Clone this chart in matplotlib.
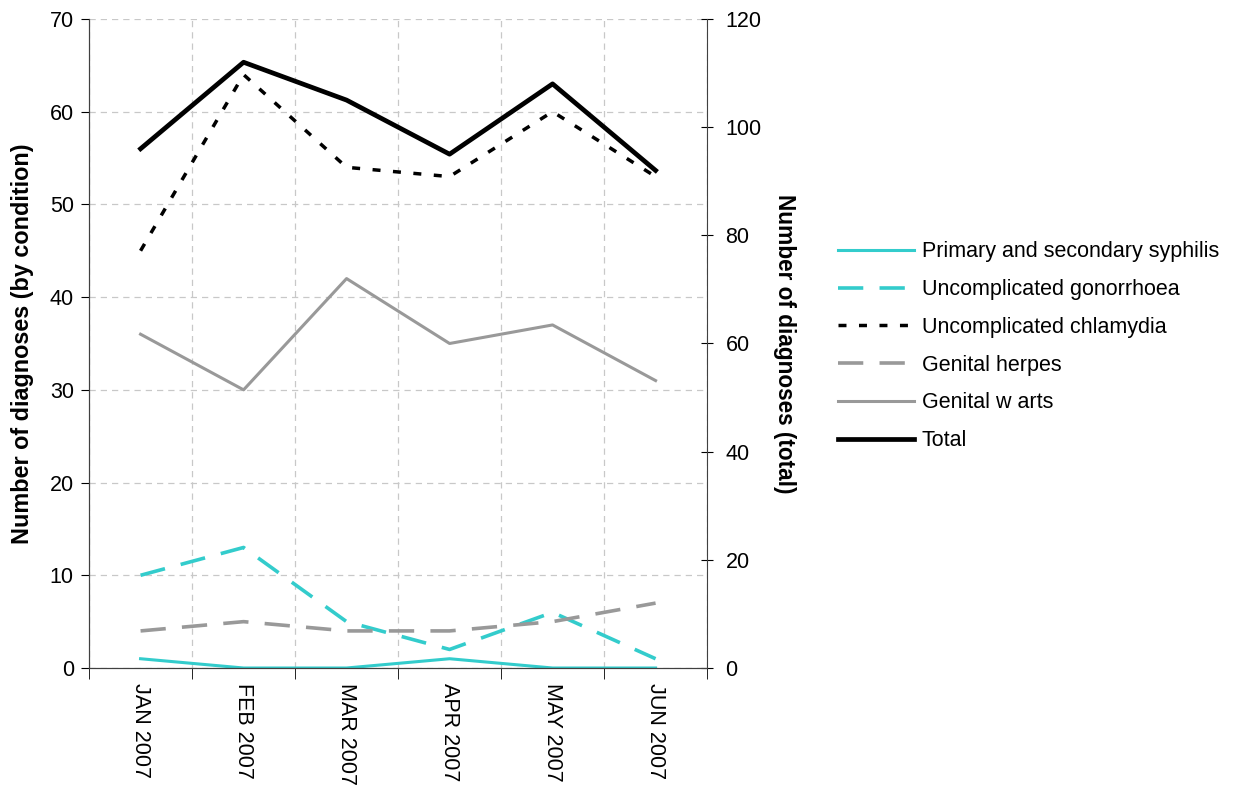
import numpy as np
import matplotlib
matplotlib.use("Agg")
import matplotlib.pyplot as plt

plt.rcParams['font.family'] = ['Liberation Sans', 'DejaVu Sans']

months = ['JAN 2007', 'FEB 2007', 'MAR 2007', 'APR 2007', 'MAY 2007', 'JUN 2007']
syphilis = [1, 0, 0, 1, 0, 0]
gonorrhoea = [10, 13, 5, 2, 6, 1]
chlamydia = [45, 64, 54, 53, 60, 53]
herpes = [4, 5, 4, 4, 5, 7]
warts = [36, 30, 42, 35, 37, 31]
total = [96, 112, 105, 95, 108, 92]

cyan = '#33CCCC'
grey = '#999999'
fs = 15.5

fig = plt.figure(figsize=(12.37, 7.87), dpi=100)
ax = fig.add_axes([0.072, 0.1512, 0.4996, 0.8247])
ax2 = ax.twinx()

x = np.arange(len(months))
l1, = ax.plot(x, syphilis, color=cyan, lw=2.2, label='Primary and secondary syphilis')
l2, = ax.plot(x, gonorrhoea, color=cyan, lw=2.6, dashes=(7, 4.5), label='Uncomplicated gonorrhoea')
l3, = ax.plot(x, chlamydia, color='black', lw=2.5, dashes=(2.3, 3.6), label='Uncomplicated chlamydia')
l4, = ax.plot(x, herpes, color=grey, lw=2.6, dashes=(7, 4.5), label='Genital herpes')
l5, = ax.plot(x, warts, color=grey, lw=2.2, label='Genital w arts')
l6, = ax2.plot(x, total, color='black', lw=3.4, label='Total')

ax.set_xlim(-0.5, len(months) - 0.5)
ax.set_ylim(0, 70)
ax.set_yticks(np.arange(0, 71, 10))
ax2.set_ylim(0, 120)
ax2.set_yticks(np.arange(0, 121, 20))

ax.set_xticks(x)
ax.set_xticklabels(months, rotation=-90, fontsize=fs)
ax.set_xticks(np.arange(-0.5, len(months)), minor=True)
ax.tick_params(axis='x', which='major', length=0, pad=11)
ax.tick_params(axis='x', which='minor', length=8, direction='out')
ax.tick_params(axis='y', labelsize=fs, length=6, direction='out', pad=5)
ax2.tick_params(axis='y', labelsize=fs, length=8.5, direction='inout', pad=9)

ax.grid(True, which='minor', axis='x', color='#c8c8c8', ls=(0, (5, 4)), lw=0.9)
ax.grid(True, which='major', axis='y', color='#c8c8c8', ls=(0, (5, 4)), lw=0.9)

for a in (ax, ax2):
    a.spines['top'].set_visible(False)
    for s in ('left', 'right', 'bottom'):
        a.spines[s].set_color('#404040')
ax.spines['right'].set_visible(False)

ax.set_ylabel('Number of diagnoses (by condition)', fontsize=16.8, fontweight='bold', labelpad=11)
ax2.set_ylabel('Number of diagnoses (total)', fontsize=16.3, fontweight='bold', rotation=-90, labelpad=25)

fig.legend(handles=[l1, l2, l3, l4, l5, l6], loc='upper left', bbox_to_anchor=(0.662, 0.718),
           frameon=False, fontsize=fs, handlelength=3.5, handletextpad=0.37, labelspacing=0.78)

fig.savefig('out.png', dpi=100)
